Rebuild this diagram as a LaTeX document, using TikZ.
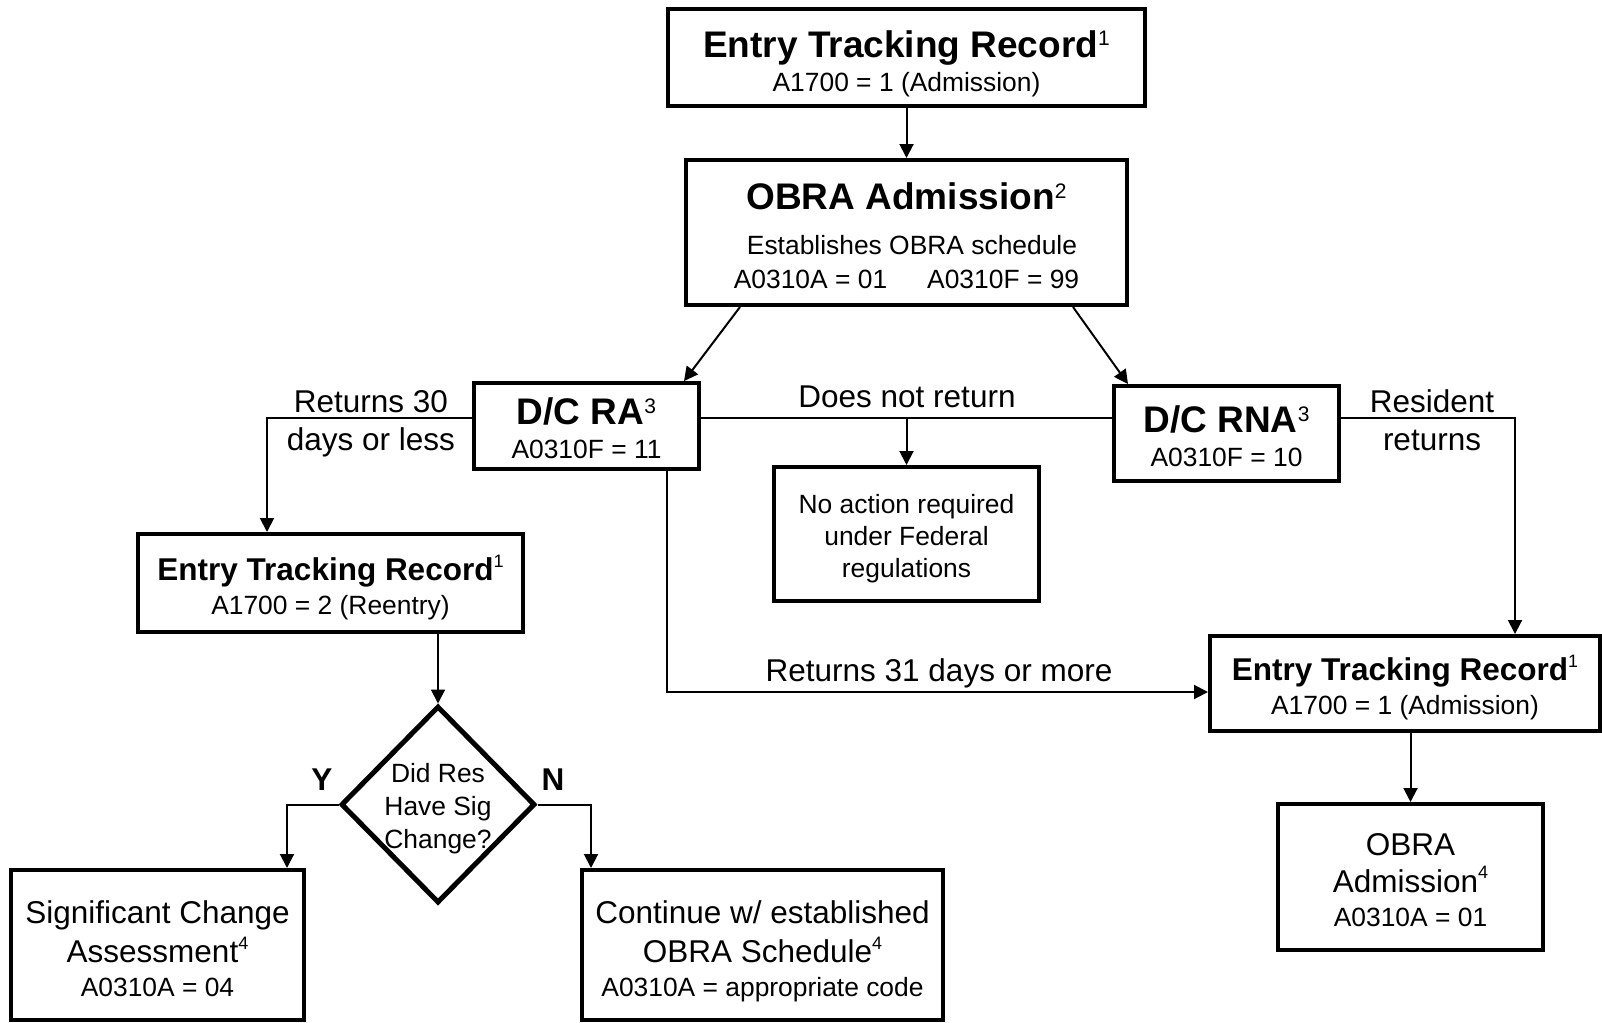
\documentclass[tikz,border=0pt]{standalone}
\usepackage{fontspec}
\setmainfont{Liberation Sans}
\usetikzlibrary{arrows.meta,shapes.geometric}
\newcommand\fbig{\fontsize{37}{40}\selectfont\bfseries}
\newcommand\fbm{\fontsize{31.5}{36}\selectfont\bfseries}
\newcommand\fmid{\fontsize{31.5}{38}\selectfont}
\newcommand\fsm{\fontsize{26.4}{34}\selectfont}
\newcommand\supa[1]{\raisebox{0.3em}{\fontsize{21}{21}\selectfont\mdseries #1}}
\newcommand\supb[1]{\raisebox{0.42em}{\fontsize{18}{18}\selectfont\mdseries #1}}
\newcommand\topst[1]{\rule{0pt}{#1pt}}
\newcommand\botst{\rule[-10pt]{0pt}{10pt}}
\begin{document}
\begin{tikzpicture}[x=1pt,y=-1pt,
  box/.style={draw,line width=4pt,align=center,inner sep=0pt},
  arr/.style={line width=2pt,-{Triangle[length=14pt,width=14pt]}},
  conn/.style={line width=2pt},
  lbl/.style={align=center,inner sep=0pt,font=\fmid}]
\fill[white] (0,0) rectangle (1602,1022);
\useasboundingbox (0,0) rectangle (1602,1022);

% boxes
\node[box,minimum width=477pt,minimum height=97pt,font=\fsm] (etr1) at (906.5,57.5)
  {\topst{43.2}{\fbig Entry Tracking Record\supa{1}}\\A1700 = 1 (Admission)\botst};
\node[box,minimum width=441pt,minimum height=145pt,font=\fsm] (obra1) at (906.5,232.5)
  {\topst{42.8}{\fbig OBRA Admission\supa{2}}\\[11pt]\hspace*{11pt}Establishes OBRA schedule\\A0310A = 01\hspace{40pt}A0310F = 99\botst};
\node[box,minimum width=225pt,minimum height=80pt,font=\fsm] (dcra) at (586.5,426)
  {\topst{41.8}{\fbig D/C RA\supa{3}}\\A0310F = 11\botst};
\node[box,minimum width=225pt,minimum height=95pt,font=\fsm] (dcrna) at (1226.5,433.5)
  {\topst{41.2}{\fbig D/C RNA\supa{3}}\\A0310F = 10\botst};
\node[box,minimum width=265pt,minimum height=134pt,font=\fontsize{26.4}{32.2}\selectfont] (noact) at (906.5,534)
  {\topst{32.8}No action required\\under Federal\\regulations\botst};
\node[box,minimum width=385pt,minimum height=98pt,font=\fsm] (etr2) at (330.5,583)
  {\topst{38.8}{\fbm Entry Tracking Record\supb{1}}\\A1700 = 2 (Reentry)\botst};
\node[draw,diamond,aspect=1,line width=5pt,inner sep=0pt,minimum width=194pt,minimum height=197pt] (dia) at (438,804.5) {};
\node[align=center,inner sep=0pt,font=\fontsize{26.4}{33}\selectfont] (diat) at (dia.center)
  {\topst{32.8}Did Res\\Have Sig\\Change?\botst};
\node[box,minimum width=293pt,minimum height=150pt,font=\fontsize{31.5}{39}\selectfont] (sig) at (157.5,945)
  {\topst{40.4}Significant Change\\Assessment\supb{4}\\[-5pt]{\fsm A0310A = 04}\botst};
\node[box,minimum width=361pt,minimum height=150pt,font=\fontsize{31.5}{39}\selectfont] (cont) at (762.5,945)
  {\topst{40.4}Continue w/ established\\OBRA Schedule\supb{4}\\[-5pt]{\fsm A0310A = appropriate code}\botst};
\node[box,minimum width=390pt,minimum height=95pt,font=\fsm] (etr3) at (1405,683.5)
  {\topst{38}{\fbm Entry Tracking Record\supb{1}}\\A1700 = 1 (Admission)\botst};
\node[box,minimum width=265pt,minimum height=146pt,font=\fontsize{31.5}{37}\selectfont] (obra3) at (1410.5,877)
  {\topst{37.4}OBRA\\Admission\supb{4}\\[-3pt]{\fsm A0310A = 01}\botst};

% connectors
\draw[arr] (etr1) -- (obra1);
\draw[arr] ([xshift=56pt]obra1.south west) -- ([xshift=-17pt]dcra.north east);
\draw[arr] ([xshift=-56pt]obra1.south east) -- ([xshift=16pt]dcrna.north west);
\draw[arr] ([yshift=8pt]dcra.west) -| ([xshift=-63.5pt]etr2.north);
\draw[conn] ([yshift=8pt]dcra.east) -- ([yshift=8pt]dcra.east -| dcrna.west);
\draw[arr] ([yshift=8pt]dcra.east -| noact.north) -- (noact.north);
\draw[arr] ([xshift=80.5pt]dcra.south) |- ([yshift=-8.5pt]etr3.west);
\draw[arr] ([yshift=15.5pt]dcrna.east) -| ([xshift=110pt]etr3.north);
\draw[arr] (etr3.south -| obra3.north) -- (obra3.north);
\draw[arr] (etr2.south -| dia.north) -- (dia.north);
\draw[arr] (dia.west) -| ([xshift=129.5pt]sig.north);
\draw[arr] (dia.east) -| ([xshift=-171.5pt]cont.north);

% labels
\node[lbl,font=\fontsize{31.5}{38}\selectfont] (l30) at (371,419.5) {\topst{34.4}Returns 30\\days or less\botst};
\node[lbl,anchor=base] (lnot) at (907,407) {Does not return};
\node[lbl,font=\fontsize{31.5}{38}\selectfont] (lres) at (1432,419.5) {\topst{34.4}Resident\\returns\botst};
\node[lbl,anchor=base] (l31) at (939,681.5) {Returns 31 days or more};
\node[font=\fontsize{31.5}{31.5}\selectfont\bfseries,inner sep=0pt,anchor=base] (ly) at (322,790) {Y};
\node[font=\fontsize{31.5}{31.5}\selectfont\bfseries,inner sep=0pt,anchor=base] (ln) at (553,790) {N};
\end{tikzpicture}
\end{document}
